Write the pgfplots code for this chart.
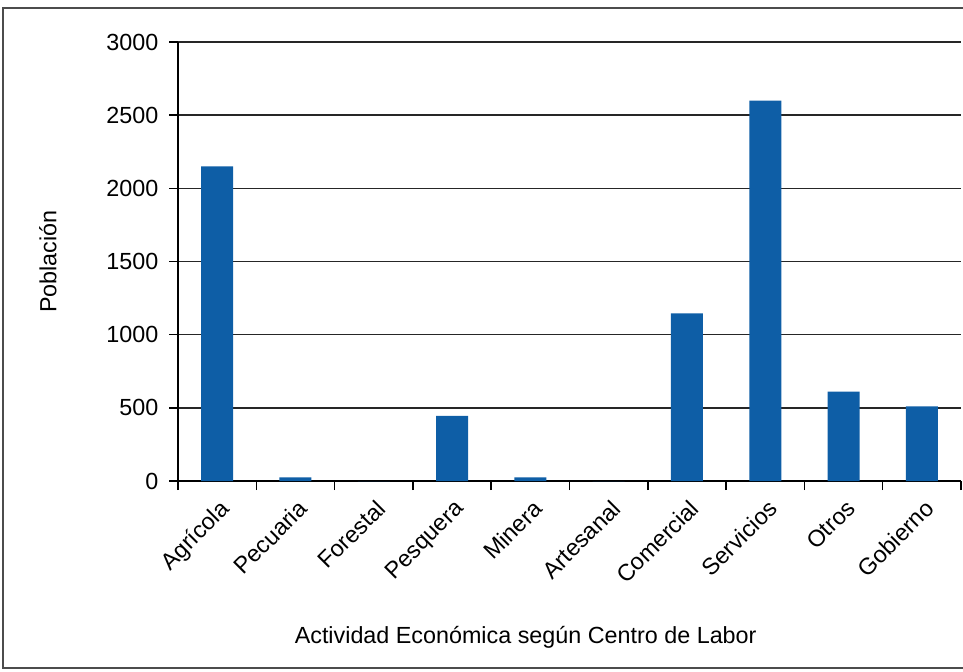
\documentclass[border=0pt]{standalone}
\usepackage{pgfplots}
\pgfplotsset{compat=1.18}
\usepackage{fontspec}
\setmainfont{Liberation Sans}
\newlength\px
\setlength\px{0.75pt}
\definecolor{barblue}{RGB}{14,94,166}
\newcommand\chartfont{\fontsize{17.5}{21}\selectfont}

\begin{document}
\begin{tikzpicture}
\useasboundingbox (0,0) rectangle (963\px,671\px);
% outer frame of the chart
\draw[line width=1.5\px, black!70] (963\px,663\px) -- (3\px,663\px) -- (3\px,3\px) -- (963\px,3\px);
\begin{axis}[
  at={(178\px,190\px)}, anchor=south west,
  scale only axis, width=783\px, height=439\px,
  xmin=-0.5, xmax=9.5, ymin=0, ymax=3000,
  ytick={0,500,...,3000},
  xtick={-0.5,0.5,...,9.5},
  x tick label as interval,
  xticklabels={Agrícola,Pecuaria,Forestal,Pesquera,Minera,Artesanal,Comercial,Servicios,Otros,Gobierno},
  xticklabel style={rotate=45, anchor=north east, font=\chartfont, inner sep=2pt, xshift=-2\px, yshift=-4\px},
  yticklabel style={font=\chartfont, xshift=-6\px},
  /pgf/number format/assume math mode=true,
  /pgf/number format/1000 sep={},
  ymajorgrids, grid style={black!85, line width=1.4\px},
  tick align=outside, major tick length=9\px,
  axis x line*=bottom, axis y line*=left,
  axis line style={black, line width=1.5\px, -},
  tick style={black, line width=1.5\px},
  xlabel={Actividad Económica según Centro de Labor},
  ylabel={Población},
  every axis x label/.style={at={(axis description cs:0.444,0)}, anchor=center, yshift=-156\px, font=\chartfont},
  every axis y label/.style={at={(axis description cs:-0.166,0.5)}, rotate=90, anchor=center, font=\chartfont},
  ybar, bar width=32\px,
]
\addplot[fill=barblue, draw=none] coordinates {
  (0,2150) (1,25) (2,0) (3,445) (4,25) (5,0) (6,1145) (7,2600) (8,610) (9,510)
};
\end{axis}
\end{tikzpicture}
\end{document}
